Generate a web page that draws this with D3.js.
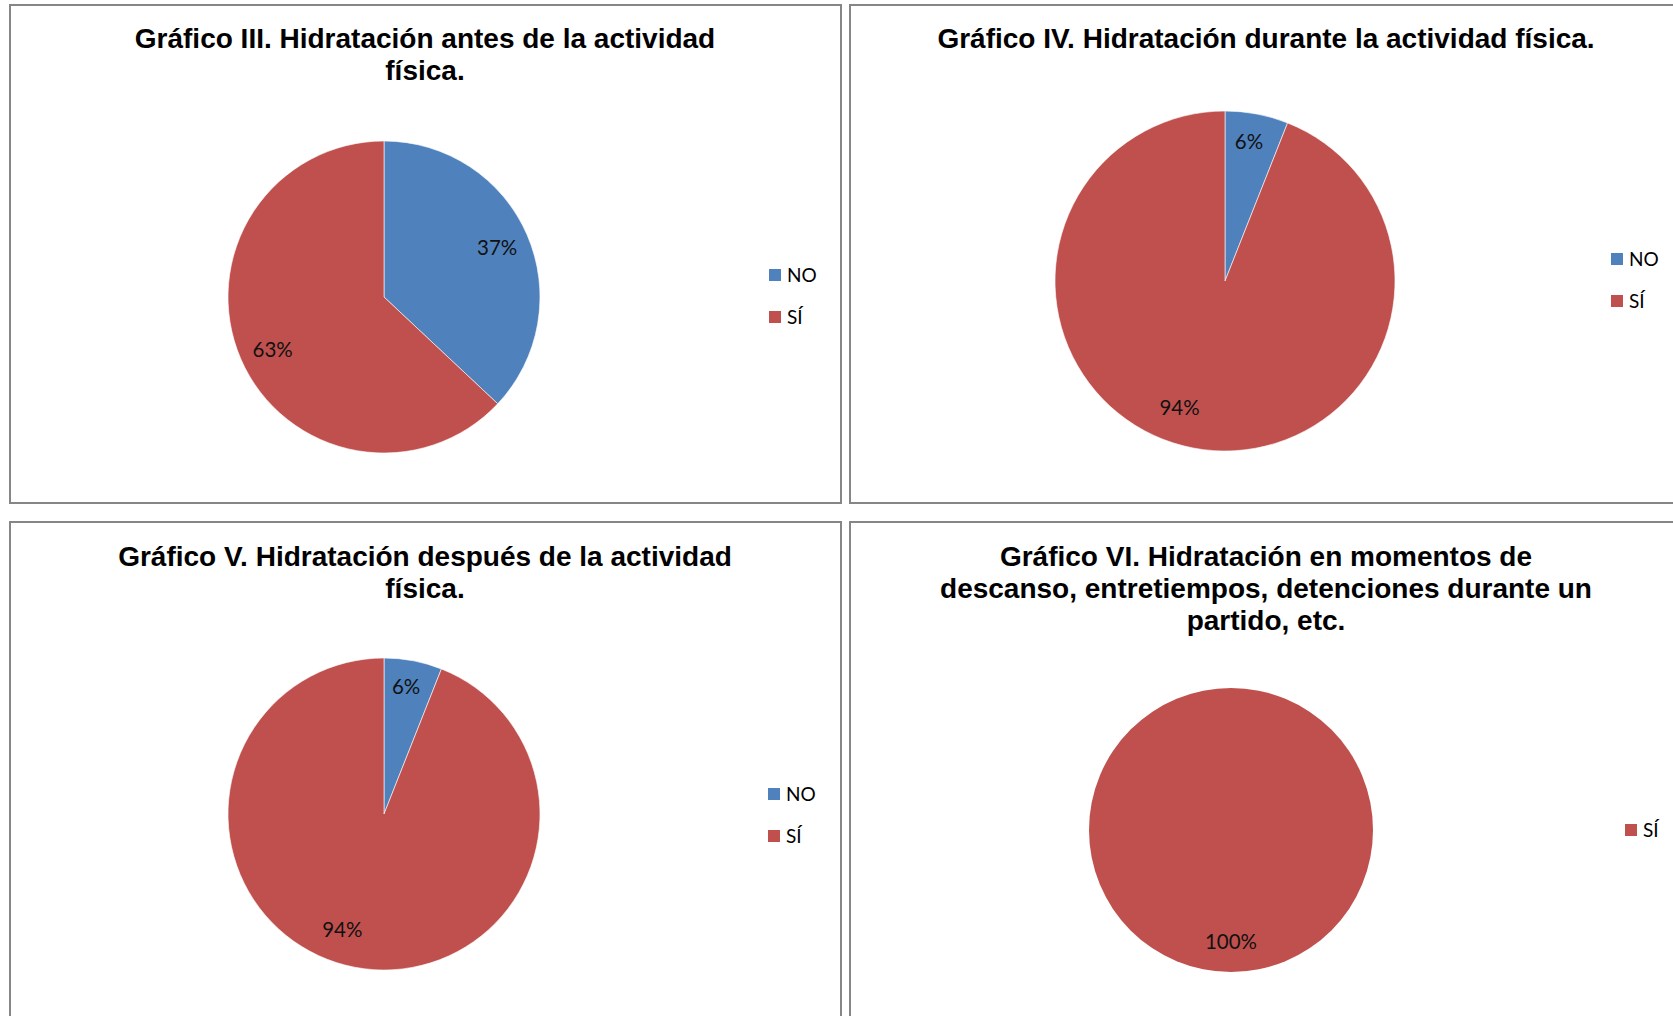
<!DOCTYPE html>
<html>
<head>
<meta charset="utf-8">
<script src="https://cdn.jsdelivr.net/npm/d3@7"></script>
<title>Hidratación</title>
<style>
  body { margin: 0; background: #fff; }
</style>
</head>
<body>
<script>

// datos de cada gráfico
var categorias = ["NO", "SÍ"];
var categoriasVI = ["SÍ"];

var tituloIII = ["Gráfico III. Hidratación antes de la actividad", "física."];
var tituloIV = ["Gráfico IV. Hidratación durante la actividad física."];
var tituloV = ["Gráfico V. Hidratación después de la actividad", "física."];
var tituloVI = ["Gráfico VI. Hidratación en momentos de", "descanso, entretiempos, detenciones durante un", "partido, etc."];

var valoresIII = [37, 63];
var valoresIV = [6, 94];
var valoresV = [6, 94];
var valoresVI = [100];

var width = 1673,
    height = 1016;

var color = d3.scaleOrdinal()
  .domain(["NO", "SÍ"])
  .range(["#4f81bd", "#c0504d"]);

var svg = d3.select("body")
  .append("svg")
  .attr("width", width)
  .attr("height", height);

// ajuste: giro (grados) de la etiqueta de cada porción, como el "mejor ajuste" de Excel
var paneles = [
  { titulo: tituloIII, cats: categorias, vals: valoresIII, ajuste: [0, -2],
    x: 10, y: 5, w: 831, h: 498, tx: 425, ty: 48,
    cx: 384, cy: 297, r: 156, lx: 769, ly: 275 },
  { titulo: tituloIV, cats: categorias, vals: valoresIV, ajuste: [-1, 9],
    x: 850, y: 5, w: 860, h: 498, tx: 1266, ty: 48,
    cx: 1225, cy: 281, r: 170, lx: 1611, ly: 259 },
  { titulo: tituloV, cats: categorias, vals: valoresV, ajuste: [-1, 9],
    x: 10, y: 522, w: 831, h: 520, tx: 425, ty: 566,
    cx: 384, cy: 814, r: 156, lx: 768, ly: 794 },
  { titulo: tituloVI, cats: categoriasVI, vals: valoresVI, ajuste: [0],
    x: 850, y: 522, w: 860, h: 520, tx: 1266, ty: 566,
    cx: 1231, cy: 830, r: 142, lx: 1625, ly: 830 }
];

var pie = d3.pie().sort(null);

paneles.forEach(function(p) {
  var g = svg.append("g");

  g.append("rect")
    .attr("x", p.x)
    .attr("y", p.y)
    .attr("width", p.w)
    .attr("height", p.h)
    .attr("fill", "#fff")
    .attr("stroke", "#868686")
    .attr("stroke-width", 2);

  g.selectAll("text.titulo")
    .data(p.titulo)
    .enter()
    .append("text")
    .attr("class", "titulo")
    .attr("x", p.tx)
    .attr("y", function(d, i) { return p.ty + i * 32; })
    .attr("text-anchor", "middle")
    .style("font-family", "'Liberation Sans', Arial, sans-serif")
    .style("font-weight", "bold")
    .style("font-size", "28px")
    .text(function(d) { return d; });

  var arc = d3.arc().innerRadius(0).outerRadius(p.r);
  var arcos = pie(p.vals);

  var gp = g.append("g")
    .attr("transform", "translate(" + p.cx + "," + p.cy + ")");

  gp.selectAll("path")
    .data(arcos)
    .enter()
    .append("path")
    .attr("d", arc)
    .attr("fill", function(d, i) { return color(p.cats[i]); })
    .attr("stroke", arcos.length > 1 ? "#fff" : "none")
    .attr("stroke-width", 0.6);

  gp.selectAll("text")
    .data(arcos)
    .enter()
    .append("text")
    .attr("transform", function(d, i) {
      var a = (d.startAngle + d.endAngle) / 2 + p.ajuste[i] * Math.PI / 180;
      var rr = p.r * (d.endAngle - d.startAngle < 0.5 ? 0.83 : 0.79);
      return "translate(" + (rr * Math.sin(a)) + "," + (-rr * Math.cos(a)) + ")";
    })
    .attr("text-anchor", "middle")
    .attr("dy", "0.35em")
    .style("font-family", "Lato, 'Open Sans', sans-serif")
    .style("font-size", "20.5px")
    .style("fill", "#111")
    .text(function(d) { return d.data + "%"; });

  var ley = g.selectAll("g.ley")
    .data(p.cats)
    .enter()
    .append("g")
    .attr("class", "ley")
    .attr("transform", function(d, i) { return "translate(" + p.lx + "," + (p.ly + i * 42) + ")"; });

  ley.append("rect")
    .attr("x", 0)
    .attr("y", -6)
    .attr("width", 12)
    .attr("height", 12)
    .attr("fill", function(d) { return color(d); });

  ley.append("text")
    .attr("x", 18)
    .attr("dy", "0.36em")
    .style("font-family", "Lato, 'Open Sans', sans-serif")
    .style("font-size", "19px")
    .text(function(d) { return d; });
});

</script>
</body>
</html>
